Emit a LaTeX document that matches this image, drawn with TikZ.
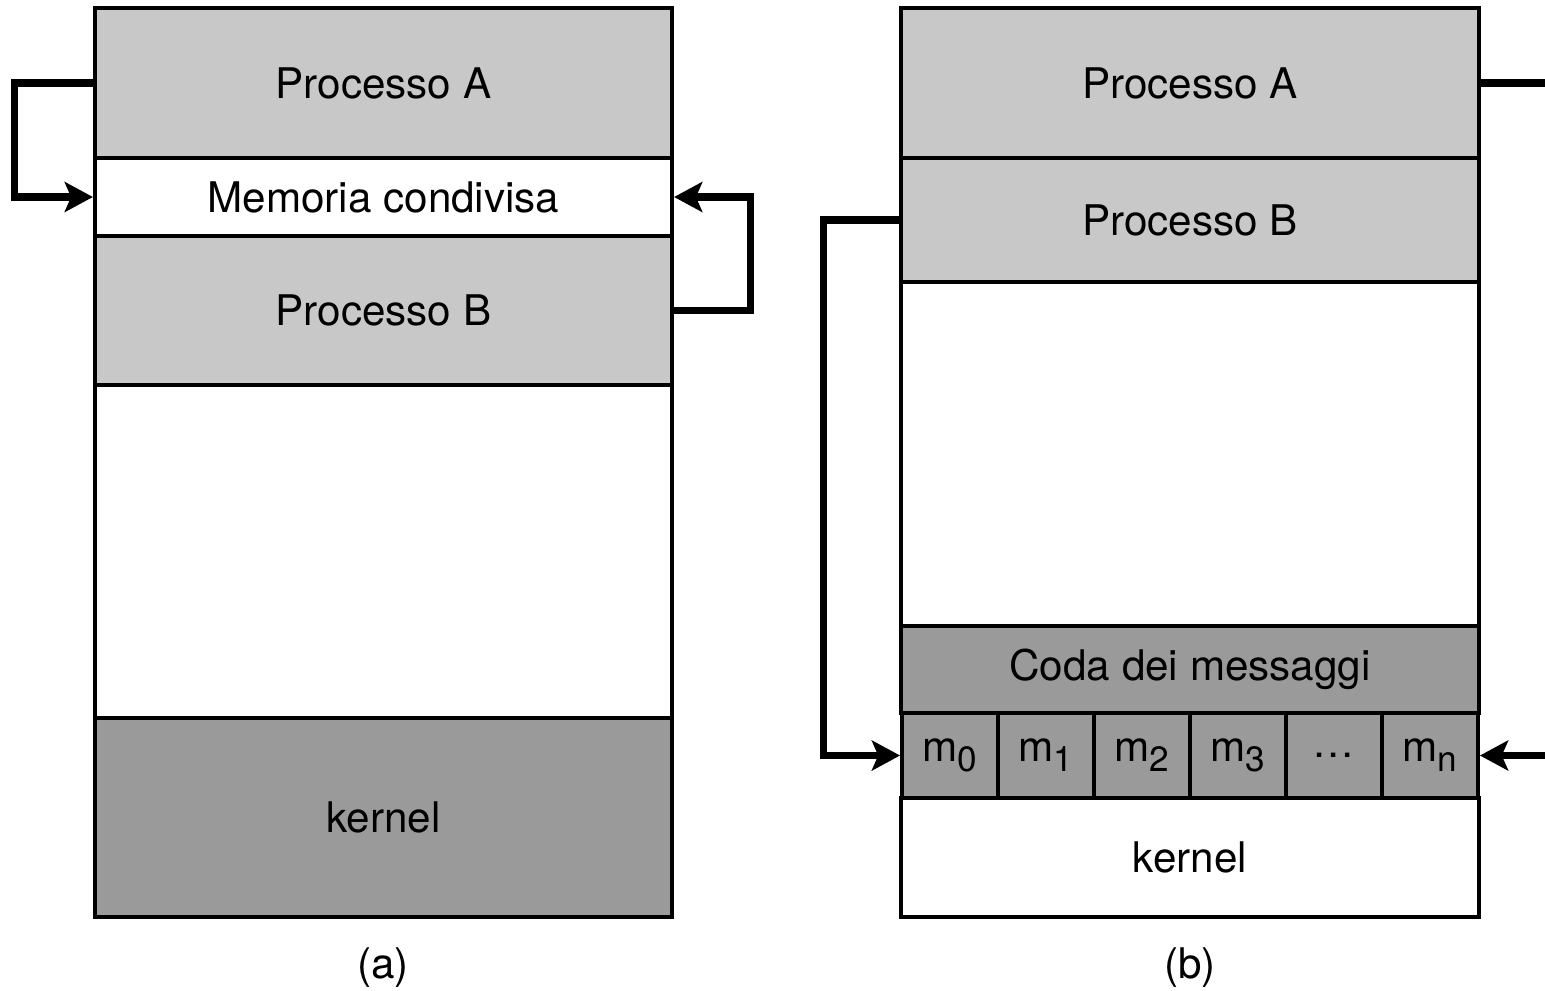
\documentclass[tikz,border=0pt]{standalone}
\usepackage{fontspec}
\setmainfont{TeX Gyre Heros}
\usetikzlibrary{arrows.meta}
\definecolor{procgray}{HTML}{C8C8C8}
\definecolor{kergray}{HTML}{9A9A9A}
\newcommand{\msg}[1]{m\raisebox{-0.45ex}{\fontsize{10}{12}\selectfont #1}}

\begin{document}
\begin{tikzpicture}[x=0.01cm,y=-0.01cm,
            every node/.style={font=\fontsize{12}{14}\selectfont},
            blk/.style={draw=black,line width=1.1pt,inner sep=0pt,minimum width=5.77cm},
            light/.style={blk,fill=procgray},
            dark/.style={blk,fill=kergray},
            cell/.style={blk,fill=kergray,minimum width=0.96cm,minimum height=0.85cm},
            link/.style={line width=2pt,-{Stealth[length=8pt,width=8.5pt,inset=1.8pt]}}]
            \useasboundingbox (0,0) rectangle (1545,990);
            \node [light,minimum height=1.5cm] (pa) at (383.5,83) {Processo A};
            \node [blk,minimum height=0.78cm] (mem) at (383.5,197) {Memoria condivisa};
            \node [light,minimum height=1.49cm] (pb) at (383.5,310.5) {Processo B};
            \node [blk,minimum height=3.33cm] (vuota) at (383.5,551.5) {};
            \node [dark,minimum height=1.99cm] (ker) at (383.5,817.5) {kernel};
            \draw [link] (pa.west) -- ++(-78,0) |- (mem.west);
            \draw [link] (pb.east) -- ++(76,0) |- (mem.east);
            \node (la) at (383,968) {(a)};
            \node [light,minimum height=1.5cm] (pa2) at (1190,83) {Processo A};
            \node [light,minimum height=1.24cm] (pb2) at (1190,220) {Processo B};
            \node [blk,minimum height=3.44cm] (vuota2) at (1190,454) {};
            \node [dark,minimum height=0.87cm] (coda) at (1190,669.5) {Coda dei messaggi};
            \foreach \lbl [count=\i from 0] in {\msg{0},\msg{1},\msg{2},\msg{3},{\ldots},\msg{n}}
                \node [cell] (c\i) at (950+96*\i,755.5) {\lbl};
            \node [blk,minimum height=1.19cm] (ker2) at (1190,857.5) {kernel};
            \coordinate (ea) at (1545,83);
            \coordinate (eb) at (1545,755.5);
            \draw [link] (pb2.west) -- ++(-76,0) |- (c0.west);
            \draw [line width=2pt] (pa2.east) -- (ea);
            \draw [link] (eb) -- (c5.east);
            \node (lb) at (1190,968) {(b)};
        \end{tikzpicture}
\end{document}
